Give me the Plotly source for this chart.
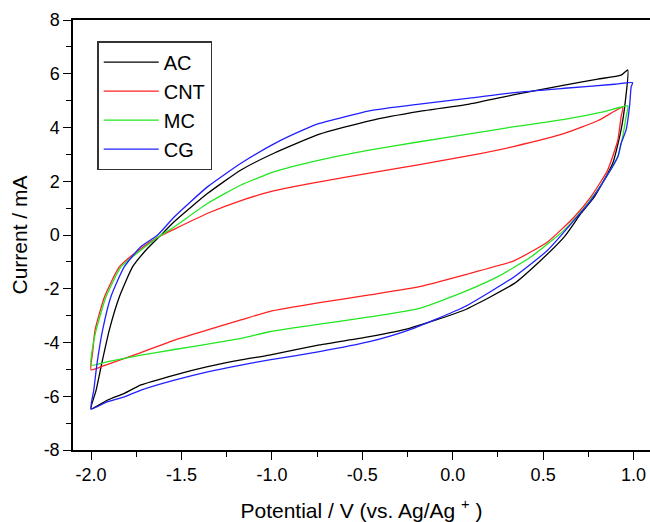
import plotly.graph_objects as go

# cyclic voltammograms: forward sweep then reverse sweep
ac_v = [-2.000, -1.972, -1.941, -1.899, -1.843, -1.770, -1.696, -1.622, -1.539, -1.355,
        -1.171, -0.986, -0.737, -0.461, -0.184, 0.092, 0.341, 0.618, 0.802, 0.931, 0.968,
        0.955, 0.931, 0.885, 0.784, 0.710, 0.618, 0.470, 0.341, 0.065, -0.240, -0.461,
        -0.737, -1.014, -1.171, -1.355, -1.539, -1.724, -1.816, -1.908, -2.000]
ac_i = [-6.47, -5.77, -4.78, -3.53, -2.29, -1.18, -0.56, -0.06, 0.50, 1.55,
        2.42, 3.05, 3.75, 4.25, 4.60, 4.87, 5.22, 5.58, 5.80, 5.95, 6.14,
        5.00, 3.91, 2.67, 1.43, 0.81, -0.06, -1.05, -1.80, -2.79, -3.47, -3.78,
        -4.09, -4.47, -4.65, -4.90, -5.21, -5.58, -5.89, -6.14, -6.47]

cnt_v = [-2.000, -1.991, -1.978, -1.925, -1.843, -1.724, -1.632, -1.539, -1.355, -1.171,
         -0.986, -0.737, -0.461, -0.184, 0.092, 0.341, 0.618, 0.802, 0.940,
         0.931, 0.913, 0.857, 0.765, 0.673, 0.526, 0.341, 0.065, -0.184, -0.461,
         -0.737, -1.014, -1.171, -1.355, -1.539, -1.724, -1.908, -2.000]
cnt_i = [-5.02, -4.34, -3.53, -2.29, -1.18, -0.50, -0.09, 0.22, 0.81, 1.28,
         1.65, 1.98, 2.30, 2.62, 2.95, 3.30, 3.78, 4.25, 4.75,
         4.40, 3.53, 2.42, 1.43, 0.68, -0.25, -0.95, -1.48, -1.92, -2.23,
         -2.52, -2.85, -3.16, -3.53, -3.91, -4.38, -4.81, -5.02]

mc_v = [-2.000, -1.991, -1.972, -1.917, -1.834, -1.724, -1.632, -1.539, -1.355, -1.171,
        -0.986, -0.737, -0.461, -0.184, 0.092, 0.341, 0.618, 0.839, 0.968,
        0.959, 0.940, 0.913, 0.839, 0.747, 0.618, 0.434, 0.249, 0.065, -0.184,
        -0.461, -0.737, -1.014, -1.171, -1.355, -1.539, -1.724, -1.908, -2.000]
mc_i = [-4.84, -4.16, -3.53, -2.29, -1.18, -0.56, -0.09, 0.31, 1.18, 1.86,
        2.36, 2.79, 3.16, 3.47, 3.76, 4.03, 4.30, 4.59, 4.80,
        4.40, 3.66, 2.91, 2.05, 1.18, 0.19, -0.81, -1.55, -2.11, -2.73,
        -3.05, -3.32, -3.60, -3.85, -4.06, -4.26, -4.47, -4.71, -4.84]

cg_v = [-2.000, -1.985, -1.967, -1.936, -1.890, -1.816, -1.724, -1.632, -1.539, -1.355,
        -1.171, -0.986, -0.830, -0.737, -0.461, -0.184, 0.092, 0.341, 0.618, 0.894, 0.995,
        0.987, 0.978, 0.959, 0.931, 0.913, 0.839, 0.765, 0.673, 0.526, 0.341, 0.065,
        -0.240, -0.461, -0.737, -1.014, -1.171, -1.355, -1.539, -1.724, -1.816, -1.908,
        -2.000]
cg_i = [-6.47, -5.77, -4.78, -3.53, -2.29, -1.18, -0.43, 0.00, 0.68, 1.80,
        2.67, 3.40, 3.90, 4.15, 4.62, 4.87, 5.09, 5.30, 5.46, 5.61, 5.67,
        5.52, 4.80, 3.91, 3.41, 2.91, 2.05, 1.30, 0.56, -0.56, -1.55, -2.67,
        -3.53, -3.97, -4.34, -4.65, -4.84, -5.09, -5.40, -5.77, -6.02, -6.20,
        -6.47]

x_ticks = [-2.0, -1.5, -1.0, -0.5, 0.0, 0.5, 1.0]
x_labels = ["-2.0", "-1.5", "-1.0", "-0.5", "0.0", "0.5", "1.0"]
y_ticks = [-8, -6, -4, -2, 0, 2, 4, 6, 8]
y_labels = ["-8", "-6", "-4", "-2", "0", "2", "4", "6", "8"]

series = [("AC", ac_v, ac_i, "#000000"),
          ("CNT", cnt_v, cnt_i, "#ff2020"),
          ("MC", mc_v, mc_i, "#22e622"),
          ("CG", cg_v, cg_i, "#2020ff")]

fig = go.Figure()
for name, v, i, color in series:
    fig.add_trace(go.Scatter(x=v, y=i, mode="lines", name=name,
                             line=dict(color=color, width=1.3, shape="spline", smoothing=0.5)))

fig.update_layout(
    width=650, height=522,
    margin=dict(l=73, r=0, t=20, b=72),
    paper_bgcolor="white", plot_bgcolor="white",
    font=dict(family="Liberation Sans, Arial, sans-serif", size=18, color="black"),
    showlegend=True,
    legend=dict(x=0.042, y=0.951, xanchor="left", yanchor="top",
                bordercolor="#333333", borderwidth=1.5, bgcolor="white",
                font=dict(size=20), itemwidth=55, tracegroupgap=0),
)
fig.update_xaxes(
    range=[-2.1, 1.091], tickmode="array", tickvals=x_ticks, ticktext=x_labels,
    automargin=False,
    showgrid=False, zeroline=False, showline=True, linecolor="black", linewidth=1.5,
    mirror=True, ticks="outside", ticklen=8, tickwidth=1, tickcolor="black",
    minor=dict(dtick=0.25, tick0=0, ticks="outside", ticklen=5, tickcolor="black", showgrid=False),
    title=dict(text="Potential / V (vs. Ag/Ag <sup>+</sup> )", font=dict(size=21), standoff=20),
)
fig.update_yaxes(
    range=[-8, 8], tickmode="array", tickvals=y_ticks, ticktext=y_labels,
    automargin=False,
    showgrid=False, zeroline=False, showline=True, linecolor="black", linewidth=1.5,
    ticks="outside", ticklen=8, tickwidth=1, tickcolor="black",
    minor=dict(dtick=1, tick0=0, ticks="outside", ticklen=5, tickcolor="black", showgrid=False),
    title=dict(text="Current / mA", font=dict(size=21), standoff=10),
)

# the page's default body margin would push the 650x522 figure off the window
fig.write_html("out.html", config={"displayModeBar": False},
               post_script="document.body.style.margin='0';")
